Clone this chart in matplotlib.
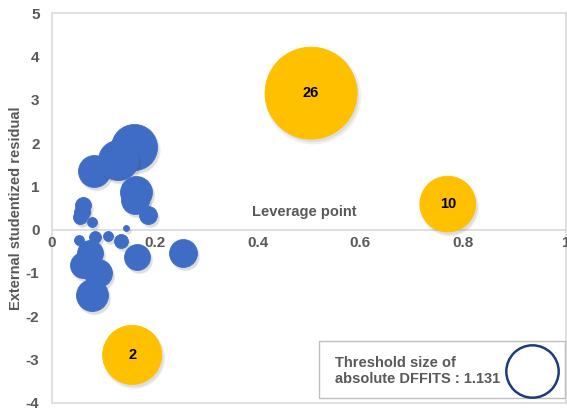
import matplotlib
matplotlib.use("Agg")
import matplotlib.pyplot as plt
from matplotlib.patches import Rectangle
from matplotlib import transforms

plt.rcParams["font.family"] = ["Liberation Sans", "DejaVu Sans"]

# Observations: leverage, externally studentized residual, |DFFITS|
leverage = [0.160, 0.082, 0.128, 0.163, 0.161, 0.187, 0.060, 0.058, 0.054, 0.078,
            0.144, 0.053, 0.084, 0.109, 0.134, 0.165, 0.255, 0.074, 0.060, 0.089, 0.078]
residual = [1.90, 1.35, 1.60, 0.87, 0.69, 0.34, 0.57, 0.41, 0.29, 0.18,
            0.04, -0.24, -0.17, -0.15, -0.26, -0.63, -0.54, -0.54, -0.81, -1.00, -1.51]
dffits = [0.79, 0.38, 0.60, 0.38, 0.29, 0.12, 0.095, 0.095, 0.073, 0.037,
          0.013, 0.037, 0.053, 0.037, 0.073, 0.25, 0.29, 0.25, 0.25, 0.29, 0.38]

# Influential observations (|DFFITS| above threshold)
infl_id = ["26", "10", "2"]
infl_leverage = [0.504, 0.770, 0.156]
infl_residual = [3.15, 0.59, -2.89]
infl_dffits = [3.15, 1.16, 1.30]

threshold = 1.131

x_ticks = [0, 0.2, 0.4, 0.6, 0.8, 1]
x_ticklabels = ["0", "0.2", "0.4", "0.6", "0.8", "1"]
y_ticks = [-4, -3, -2, -1, 0, 1, 2, 3, 4, 5]

SCALE = 1393  # points^2 per DFFITS unit (area-proportional bubbles)
BLUE = "#3F6DC5"
GOLD = "#FFC000"
GREY_TXT = "#595959"
GRID = "#D9D9D9"

W, H = 567, 409
fig = plt.figure(figsize=(W / 100, H / 100), dpi=100)
ax = fig.add_axes([52 / W, (H - 403) / H, (566 - 52) / W, (403 - 13) / H])
ax.set_xlim(0, 1)
ax.set_ylim(-4, 5)


def bubbles(xs, ys, vals, color, z):
    sizes = [v * SCALE for v in vals]
    # soft drop shadow
    for dx, dy, a, grow in [(2, -3, 0.08, 1.10), (2, -3, 0.10, 1.0)]:
        off = transforms.offset_copy(ax.transData, fig=fig, x=dx, y=dy, units="dots")
        ax.scatter(xs, ys, s=[s * grow for s in sizes], color="#404040", alpha=a,
                   linewidths=0, transform=off, zorder=z)
    ax.scatter(xs, ys, s=sizes, color=color, linewidths=0.6,
               edgecolors=color, zorder=z + 0.1)


for i in range(len(leverage)):
    bubbles([leverage[i]], [residual[i]], [dffits[i]], BLUE, 3 + i * 0.2)
bubbles(infl_leverage, infl_residual, infl_dffits, GOLD, 10)

for lab, xv, yv in zip(infl_id, infl_leverage, infl_residual):
    ax.text(xv, yv, lab, ha="center", va="center", fontsize=10.5,
            fontweight="bold", color="black", zorder=12)

# frame and zero line
for s in ax.spines.values():
    s.set_visible(False)
ax.add_patch(Rectangle((0, 0), 1, 1, transform=ax.transAxes, fill=False,
                       edgecolor=GRID, linewidth=1.2, clip_on=False, zorder=1))
ax.axhline(0, color=GRID, linewidth=1.2, zorder=1)

ax.set_yticks(y_ticks)
ax.set_yticklabels([str(t) for t in y_ticks])
ax.tick_params(axis="y", length=0, pad=9, labelsize=11, labelcolor=GREY_TXT)
for t in ax.get_yticklabels():
    t.set_fontweight("bold")
ax.set_xticks([])
for xv, lab in zip(x_ticks, x_ticklabels):
    ax.text(xv, -0.14, lab, ha="center", va="top", fontsize=11,
            fontweight="bold", color=GREY_TXT, zorder=2, clip_on=False)

ax.set_ylabel("External studentized residual", fontsize=10.5, fontweight="bold",
              color=GREY_TXT, labelpad=2)
ax.text(0.49, 0.405, "Leverage point", ha="center", va="center", fontsize=10.5,
        fontweight="bold", color=GREY_TXT)

# threshold legend
lx0, ly0 = 319 / W, (H - 398) / H
fig.add_artist(Rectangle((lx0, ly0), (565 - 319) / W, (398 - 341) / H,
                         transform=fig.transFigure, facecolor="white",
                         edgecolor="#BFBFBF", linewidth=1.0, zorder=20))
fig.text(335 / W, (H - 371) / H, "Threshold size of\nabsolute DFFITS : 1.131",
         ha="left", va="center", fontsize=10.5, fontweight="bold",
         color=GREY_TXT, linespacing=1.1, zorder=21)
fig.add_artist(plt.Line2D([532 / W], [(H - 371) / H], marker="o",
                          markersize=(threshold * SCALE) ** 0.5 * 0.95,
                          markerfacecolor="none", markeredgecolor="#1F3C7A",
                          markeredgewidth=1.8, linestyle="none",
                          transform=fig.transFigure, zorder=22))

fig.savefig("out.png", dpi=100)
